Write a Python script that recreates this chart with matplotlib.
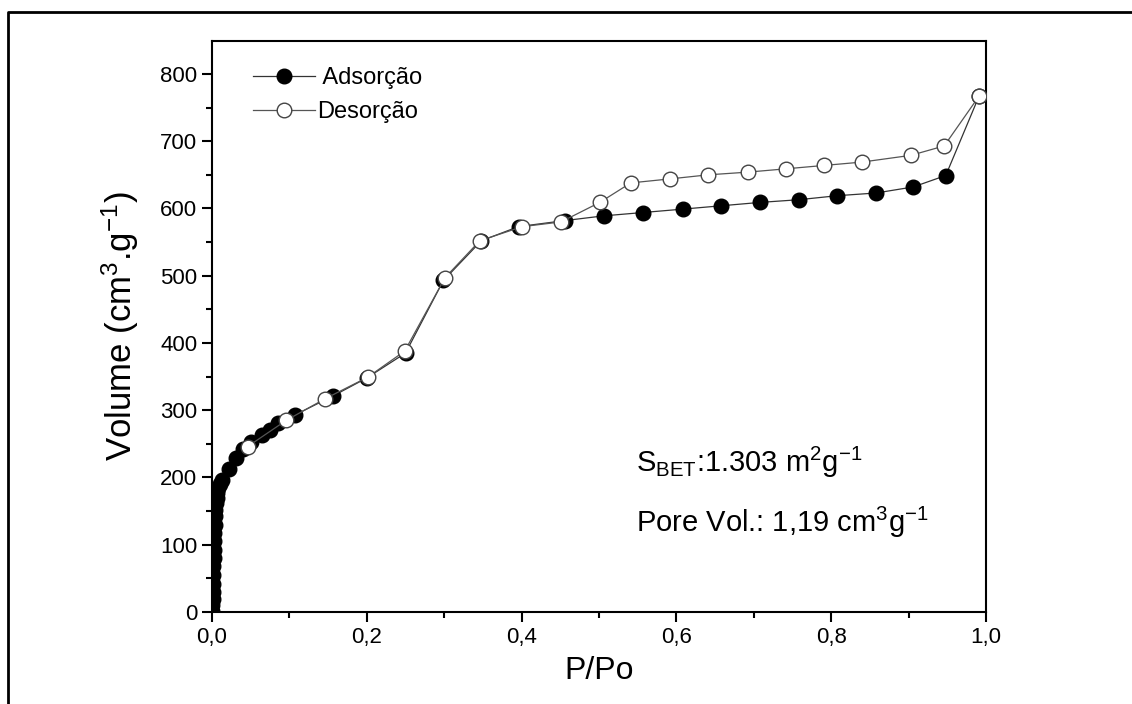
import numpy as np
import matplotlib
matplotlib.use("Agg")
import matplotlib.pyplot as plt
from matplotlib.ticker import MultipleLocator, FuncFormatter
from matplotlib.lines import Line2D

plt.rcParams['font.family'] = ['Liberation Sans', 'DejaVu Sans']
plt.rcParams['mathtext.fontset'] = 'custom'
plt.rcParams['mathtext.rm'] = 'Liberation Sans'

# adsorcao (pontos cheios)
p_ads = [0.0005, 0.0006, 0.0008, 0.0010, 0.0012, 0.0015, 0.0018, 0.0020, 0.0023,
         0.0026, 0.0030, 0.0035, 0.0040, 0.0045, 0.0050, 0.0060, 0.0070, 0.0080,
         0.0100, 0.0125, 0.022, 0.031, 0.040, 0.051, 0.064, 0.075, 0.085, 0.107,
         0.156, 0.200, 0.250, 0.299, 0.348, 0.396, 0.456, 0.506, 0.557, 0.608,
         0.658, 0.708, 0.758, 0.808, 0.858, 0.906, 0.948, 0.991]
v_ads = [2, 10, 20, 30, 42, 55, 68, 80, 92,
         105, 118, 130, 142, 152, 162, 170, 177, 184,
         190, 196, 212, 229, 243, 253, 263, 271, 281, 293,
         321, 348, 385, 493, 552, 573, 582, 589, 594, 599,
         604, 609, 613, 619, 623, 632, 649, 767]

# dessorcao (pontos vazios)
p_des = [0.991, 0.946, 0.903, 0.840, 0.791, 0.742, 0.692, 0.641, 0.592, 0.541,
         0.501, 0.451, 0.401, 0.346, 0.301, 0.249, 0.201, 0.146, 0.096, 0.046]
v_des = [767, 693, 679, 669, 664, 659, 654, 650, 644, 638,
         609, 580, 573, 552, 497, 388, 349, 317, 285, 246]

fig = plt.figure(figsize=(11.32, 7.04), dpi=100)
ax = fig.add_axes([212/1132, 92/704, 774/1132, 571/704])

ax.plot(p_ads, v_ads, '-o', color='#333333', lw=0.9, mfc='black', mec='black',
        ms=10.5, label=' Adsorção', zorder=3)
ax.plot(p_des, v_des, '-o', color='#555555', lw=0.9, mfc='white', mec='#444444',
        mew=1.0, ms=10.5, label='Desorção', zorder=4)

ax.set_xlim(0, 1.0)
ax.set_ylim(0, 849)
ax.xaxis.set_major_locator(MultipleLocator(0.2))
ax.xaxis.set_minor_locator(MultipleLocator(0.1))
ax.yaxis.set_major_locator(MultipleLocator(100))
ax.yaxis.set_minor_locator(MultipleLocator(50))
ax.xaxis.set_major_formatter(FuncFormatter(lambda v, p: f"{v:.1f}".replace('.', ',')))

for s in ax.spines.values():
    s.set_linewidth(1.5)
ax.tick_params(which='major', direction='out', length=7, width=1.5, labelsize=16)
ax.tick_params(which='minor', direction='out', length=4, width=1.5)
ax.tick_params(top=False, right=False, which='both')

ax.set_xlabel('P/Po', fontsize=23, labelpad=6)
ax.set_ylabel(r'Volume (cm$\mathregular{^3}$.g$\mathregular{^{-1}}$)', fontsize=25, labelpad=14)

ax.legend(loc='upper left', frameon=False, fontsize=17, handlelength=2.6,
          handletextpad=0.1, labelspacing=0.5, borderaxespad=0.7,
          bbox_to_anchor=(0.02, 1.0))

ax.text(0.548, 0.245, r'S$\mathregular{_{BET}}$:1.303 m$\mathregular{^2}$g$\mathregular{^{-1}}$',
        transform=ax.transAxes, fontsize=21)
ax.text(0.548, 0.14, r'Pore Vol.: 1,19 cm$\mathregular{^3}$g$\mathregular{^{-1}}$',
        transform=ax.transAxes, fontsize=21)

# moldura externa
fig.add_artist(Line2D([8/1132, 8/1132, 1.0], [0.0, 1 - 12/704, 1 - 12/704],
                      transform=fig.transFigure, color='black', lw=2))

fig.savefig('out.png', dpi=100)
